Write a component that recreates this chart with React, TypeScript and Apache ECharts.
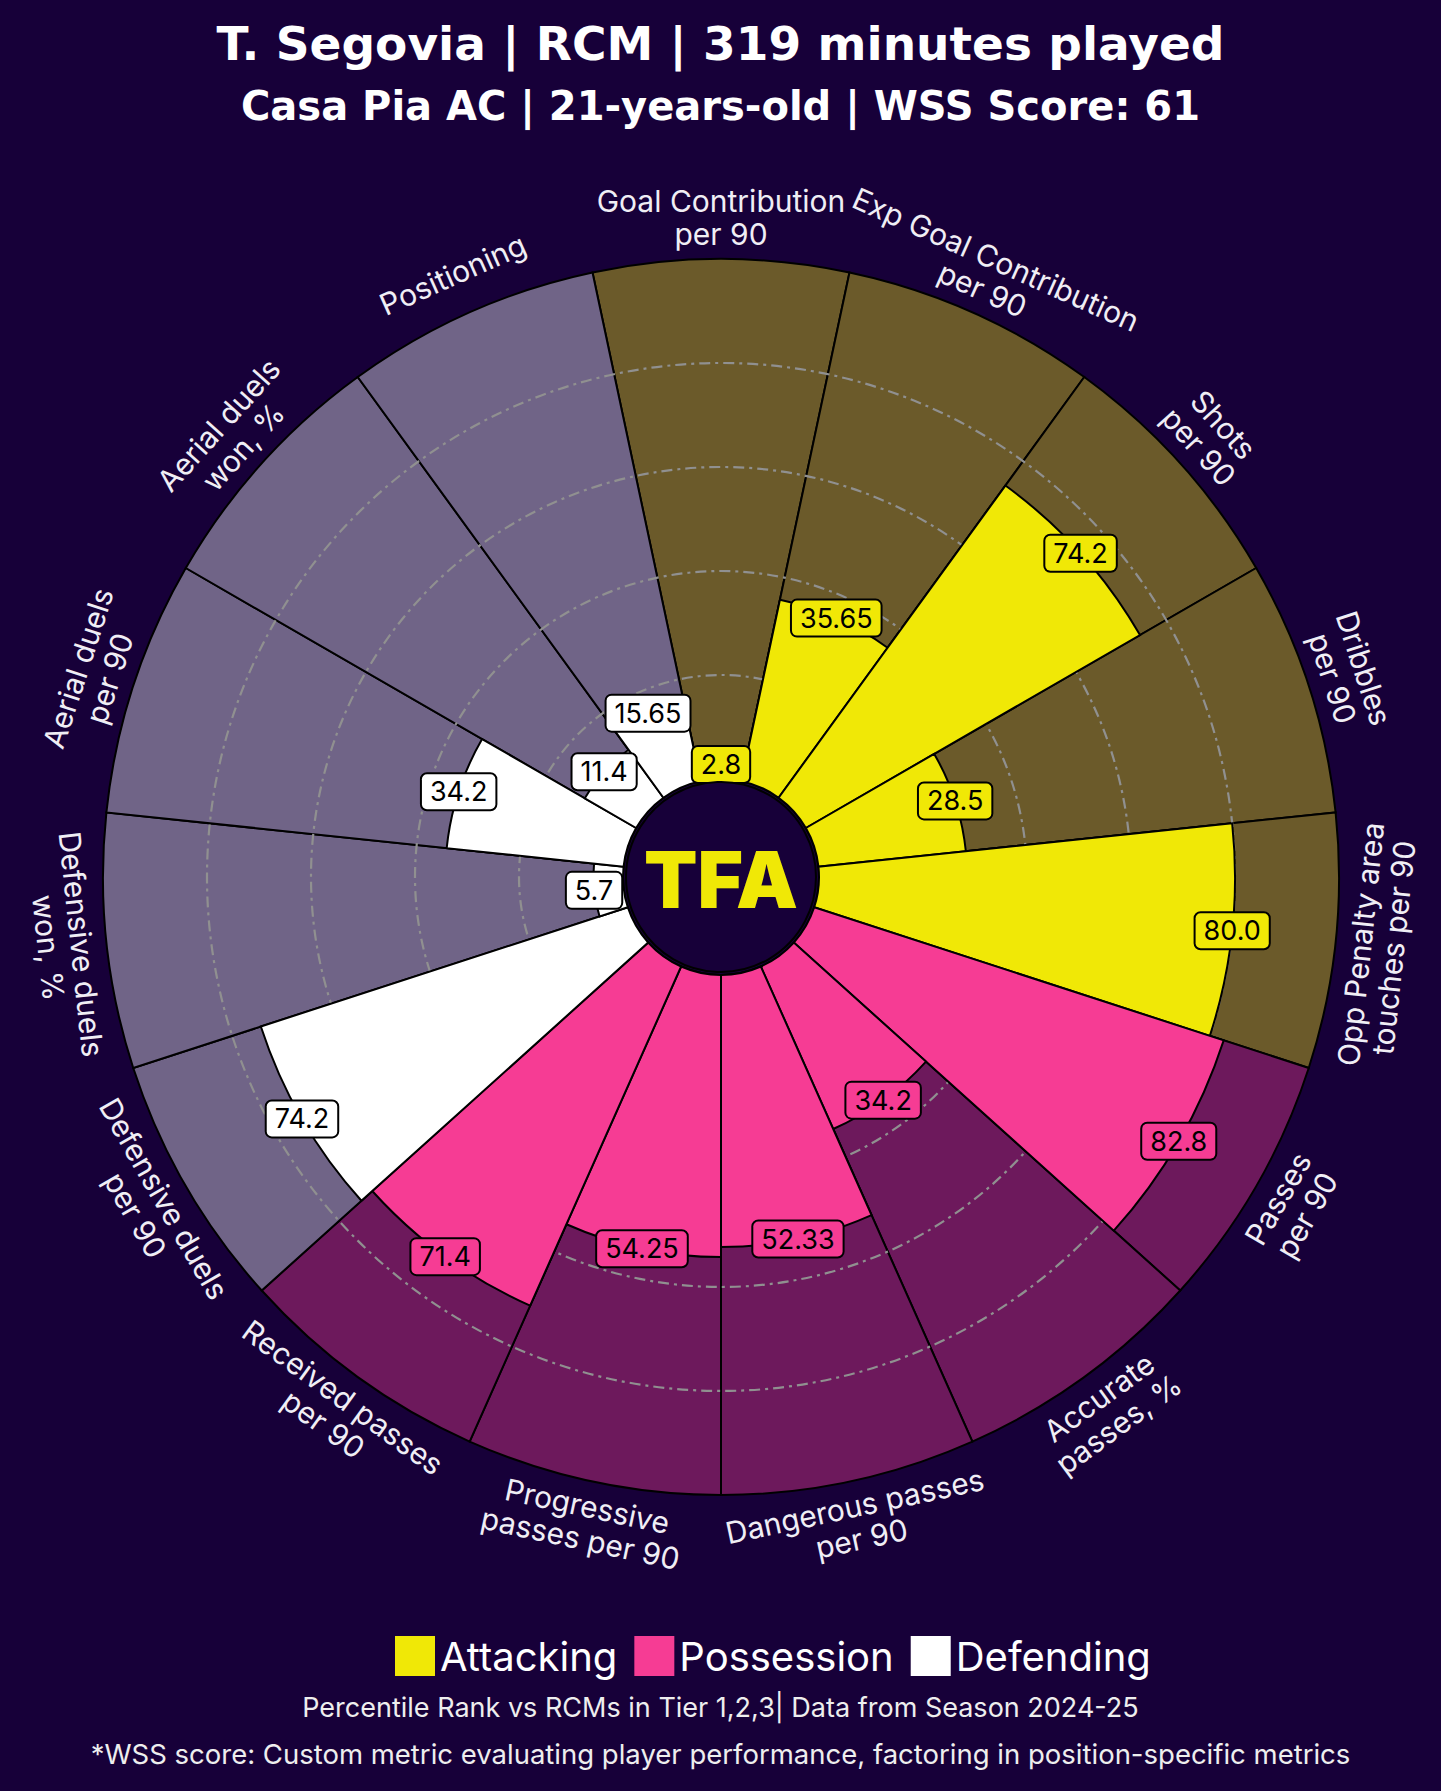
import React, { useEffect, useRef } from "react";
import * as echarts from "echarts";

const BG = "#170039";

const categories = [
  "Goal Contribution\nper 90",
  "Exp Goal Contribution\nper 90",
  "Shots\nper 90",
  "Dribbles\nper 90",
  "Opp Penalty area\ntouches per 90",
  "Passes\nper 90",
  "Accurate\npasses, %",
  "Dangerous passes\nper 90",
  "Progressive\npasses per 90",
  "Received passes\nper 90",
  "Defensive duels\nper 90",
  "Defensive duels\nwon, %",
  "Aerial duels\nper 90",
  "Aerial duels\nwon, %",
  "Positioning",
];

const groupOf = [
  "Attacking", "Attacking", "Attacking", "Attacking", "Attacking",
  "Possession", "Possession", "Possession", "Possession", "Possession",
  "Defending", "Defending", "Defending", "Defending", "Defending",
];

const values = [2.8, 35.65, 74.2, 28.5, 80.0, 82.8, 34.2, 52.33, 54.25, 71.4, 74.2, 5.7, 34.2, 11.4, 15.65];
const valueLabels = ["2.8", "35.65", "74.2", "28.5", "80.0", "82.8", "34.2", "52.33", "54.25", "71.4", "74.2", "5.7", "34.2", "11.4", "15.65"];

const groupNames = ["Attacking", "Possession", "Defending"];
const fgColor: Record<string, string> = { Attacking: "#f0e806", Possession: "#f63c94", Defending: "#ffffff" };
const bgColor: Record<string, string> = { Attacking: "#6b5a2a", Possession: "#6d195c", Defending: "#706487" };

const radiusTicks = [0, 20, 40, 60, 80, 100];

const titleText = "T. Segovia | RCM | 319 minutes played";
const subtitleText = "Casa Pia AC | 21-years-old | WSS Score: 61";
const note1 = "Percentile Rank vs RCMs in Tier 1,2,3| Data from Season 2024-25";
const note2 = "*WSS score: Custom metric evaluating player performance, factoring in position-specific metrics";

function labelRotation(i: number) {
  let r = -24 * i;
  while (r <= -180) r += 360;
  while (r > 180) r -= 360;
  if (r > 90) r -= 180;
  if (r < -90) r += 180;
  return r;
}

export default function App() {
  const ref = useRef<HTMLDivElement>(null);
  useEffect(() => {
    document.body.style.margin = "0";
    document.body.style.background = BG;
    const chart = echarts.init(ref.current!, null, { renderer: "svg" });
    const FONT = "Inter";
    const TFONT = "DejaVu Sans";
    const gridColors = radiusTicks.map((t, k) => (k === 0 || k === radiusTicks.length - 1 ? "rgba(0,0,0,0)" : "#909090"));
    const option: any = {
      animation: false,
      backgroundColor: BG,
      title: [
        { text: titleText, left: "center", top: 20, padding: 0, textStyle: { color: "#fff", fontSize: 47, fontWeight: "bold", fontFamily: TFONT } },
        { text: subtitleText, left: "center", top: 86, padding: 0, textStyle: { color: "#fff", fontSize: 40, fontWeight: "bold", fontFamily: TFONT } },
        { text: note1, left: "center", top: 1694, padding: 0, textStyle: { color: "#eeeeee", fontSize: 27, fontWeight: 400, fontFamily: FONT } },
        { text: note2, left: "center", top: 1740, padding: 0, textStyle: { color: "#eeeeee", fontSize: 27.5, fontWeight: 400, fontFamily: FONT } },
      ],
      legend: {
        data: groupNames,
        left: 395,
        top: 1636,
        padding: 0,
        itemWidth: 40,
        itemHeight: 40,
        itemGap: 17,
        icon: "rect",
        itemStyle: { borderWidth: 0 },
        textStyle: { color: "#fff", fontSize: 40, fontFamily: FONT },
      },
      polar: { center: [721, 877], radius: [98, 618] },
      angleAxis: {
        type: "category",
        data: categories,
        startAngle: 102,
        clockwise: true,
        axisLine: { show: false },
        axisTick: { show: false },
        axisLabel: { show: false },
        splitLine: { show: false },
      },
      radiusAxis: {
        type: "value",
        min: radiusTicks[0],
        max: radiusTicks[radiusTicks.length - 1],
        interval: 20,
        z: 3,
        axisLine: { show: false },
        axisTick: { show: false },
        axisLabel: { show: false },
        splitLine: {
          show: true,
          lineStyle: { color: gridColors, width: 2.2, type: [11, 5, 3, 5] },
        },
      },
      series: [
        {
          type: "bar",
          name: "bg",
          coordinateSystem: "polar",
          silent: true,
          z: 2,
          barGap: "-100%",
          barCategoryGap: "0%",
          data: categories.map((c, i) => ({ value: 100, itemStyle: { color: bgColor[groupOf[i]] } })),
          itemStyle: { borderColor: "#000", borderWidth: 2 },
        },
        ...groupNames.map((g) => ({
          type: "bar",
          name: g,
          coordinateSystem: "polar",
          z: 4,
          barGap: "-100%",
          barCategoryGap: "0%",
          data: values.map((v, i) => (groupOf[i] === g ? v : "-")),
          itemStyle: { color: fgColor[g], borderColor: "#000", borderWidth: 2 },
        })),
        {
          type: "scatter",
          name: "values",
          coordinateSystem: "polar",
          z: 6,
          clip: false,
          silent: true,
          symbolSize: 1,
          itemStyle: { color: "rgba(0,0,0,0)", opacity: 1 },
          data: values.map((v, i) => ({
            value: [v, i],
            label: { backgroundColor: fgColor[groupOf[i]] },
          })),
          label: {
            show: true,
            position: "inside",
            formatter: (p: any) => valueLabels[p.dataIndex],
            color: "#000",
            fontSize: 27,
            fontFamily: FONT,
            borderColor: "#000",
            borderWidth: 2,
            borderRadius: 5,
            padding: [5, 8, 3, 8],
          },
        },
        {
          type: "scatter",
          name: "cats",
          coordinateSystem: "polar",
          z: 6,
          clip: false,
          silent: true,
          symbolSize: 1,
          itemStyle: { color: "rgba(0,0,0,0)", opacity: 1 },
          data: categories.map((c, i) => ({
            value: [108, i],
            label: { rotate: labelRotation(i) },
          })),
          label: {
            show: true,
            position: "inside",
            formatter: (p: any) => categories[p.dataIndex],
            color: "#f0eef5",
            fontSize: 30,
            lineHeight: 33,
            align: "center",
            fontFamily: FONT,
          },
        },
      ],
      graphic: [
        {
          type: "circle",
          z: 10,
          shape: { cx: 721, cy: 877, r: 95 },
          style: { fill: BG, stroke: "#000", lineWidth: 2 },
        },
        {
          type: "text",
          z: 11,
          x: 721,
          y: 879,
          style: {
            text: "TFA",
            fill: "#f0e806",
            font: "900 78px Inter",
            align: "center",
            verticalAlign: "middle",
            textAlign: "center",
            textVerticalAlign: "middle",
          },
        },
      ],
    };
    chart.setOption(option);
    return () => chart.dispose();
  }, []);
  return <div ref={ref} style={{ width: 1441, height: 1791 }} />;
}
